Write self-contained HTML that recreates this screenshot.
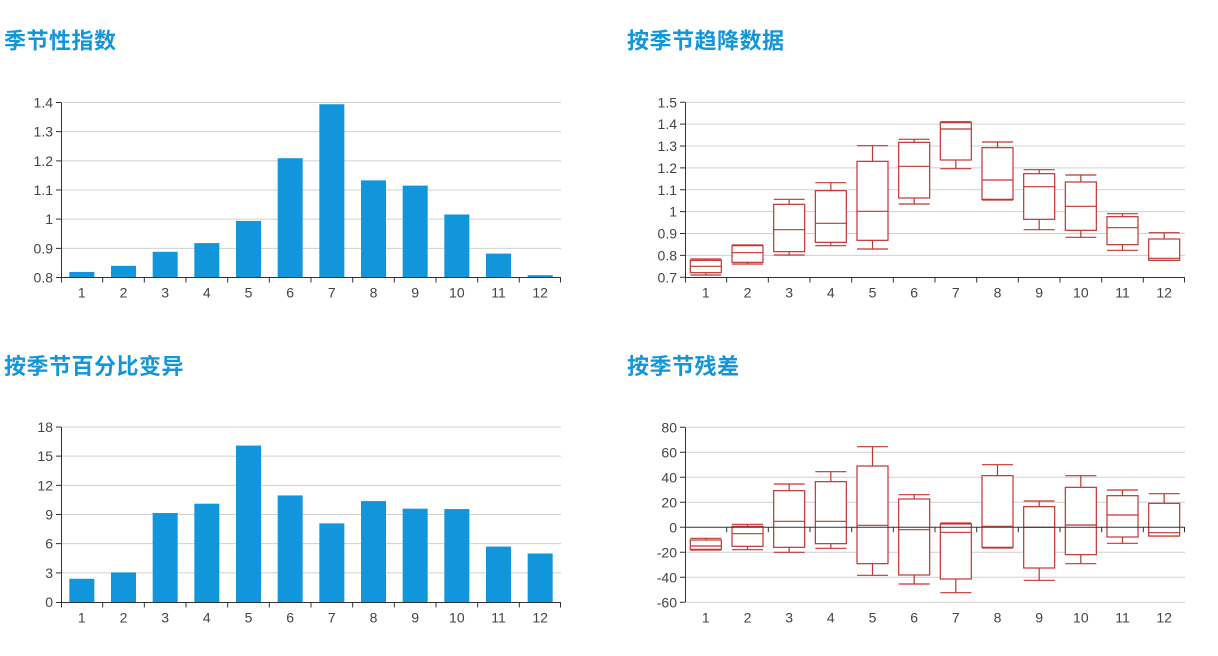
<!DOCTYPE html>
<html>
<head>
<meta charset="utf-8">
<style>
html,body{margin:0;padding:0;background:#fff;}
svg{display:block;}
.t{font-family:"Liberation Sans","Noto Sans CJK SC",sans-serif;font-size:22px;font-weight:bold;fill:#1296db;letter-spacing:0.5px;}
.yl{font-family:"Liberation Sans",sans-serif;font-size:14px;fill:#444;text-anchor:end;}
.xl{font-family:"Liberation Sans",sans-serif;font-size:14px;fill:#444;text-anchor:middle;}
.g{stroke:#d0d0d0;stroke-width:1;}
.ax{stroke:#333;stroke-width:1;fill:none;}
.bar{fill:#1296db;}
.bx{stroke:#c23531;stroke-width:1.2;fill:#fff;}
.wl{stroke:#c23531;stroke-width:1.2;fill:none;}
</style>
</head>
<body>
<svg width="1218" height="656" viewBox="0 0 1218 656" xmlns="http://www.w3.org/2000/svg">
<rect width="1218" height="656" fill="#fff"/>

<!-- Titles -->
<text class="t" x="4" y="48.5">季节性指数</text>
<text class="t" x="627" y="48.5">按季节趋降数据</text>
<text class="t" x="4" y="374">按季节百分比变异</text>
<text class="t" x="627" y="374">按季节残差</text>

<!-- ============ Chart TL ============ -->
<g>
<line class="g" x1="61" x2="561" y1="102.5" y2="102.5"/>
<line class="g" x1="61" x2="561" y1="131.67" y2="131.67"/>
<line class="g" x1="61" x2="561" y1="160.83" y2="160.83"/>
<line class="g" x1="61" x2="561" y1="190" y2="190"/>
<line class="g" x1="61" x2="561" y1="219.17" y2="219.17"/>
<line class="g" x1="61" x2="561" y1="248.33" y2="248.33"/>
<rect class="bar" x="69.33" y="271.96" width="25" height="5.54"/>
<rect class="bar" x="111" y="265.83" width="25" height="11.67"/>
<rect class="bar" x="152.67" y="251.83" width="25" height="25.67"/>
<rect class="bar" x="194.33" y="243.08" width="25" height="34.42"/>
<rect class="bar" x="236" y="220.92" width="25" height="56.58"/>
<rect class="bar" x="277.67" y="158.21" width="25" height="119.29"/>
<rect class="bar" x="319.33" y="104.25" width="25" height="173.25"/>
<rect class="bar" x="361" y="180.37" width="25" height="97.13"/>
<rect class="bar" x="402.67" y="185.62" width="25" height="91.88"/>
<rect class="bar" x="444.33" y="214.5" width="25" height="63"/>
<rect class="bar" x="486" y="253.58" width="25" height="23.92"/>
<rect class="bar" x="527.67" y="275.17" width="25" height="2.33"/>
<line class="ax" x1="61.5" x2="61.5" y1="102.5" y2="277.5"/>
<line class="ax" x1="61" x2="561" y1="277.5" y2="277.5"/>
<path class="ax" d="M56 102.5H61M56 131.67H61M56 160.83H61M56 190H61M56 219.17H61M56 248.33H61M56 277.5H61"/>
<path class="ax" d="M61.5 277.5V282.5M102.67 277.5V282.5M144.33 277.5V282.5M186 277.5V282.5M227.67 277.5V282.5M269.33 277.5V282.5M311 277.5V282.5M352.67 277.5V282.5M394.33 277.5V282.5M436 277.5V282.5M477.67 277.5V282.5M519.33 277.5V282.5M560.5 277.5V282.5"/>
<text class="yl" x="53" y="107.5">1.4</text>
<text class="yl" x="53" y="136.67">1.3</text>
<text class="yl" x="53" y="165.83">1.2</text>
<text class="yl" x="53" y="195">1.1</text>
<text class="yl" x="53" y="224.17">1</text>
<text class="yl" x="53" y="253.33">0.9</text>
<text class="yl" x="53" y="282.5">0.8</text>
<text class="xl" x="81.83" y="297.5">1</text>
<text class="xl" x="123.5" y="297.5">2</text>
<text class="xl" x="165.17" y="297.5">3</text>
<text class="xl" x="206.83" y="297.5">4</text>
<text class="xl" x="248.5" y="297.5">5</text>
<text class="xl" x="290.17" y="297.5">6</text>
<text class="xl" x="331.83" y="297.5">7</text>
<text class="xl" x="373.5" y="297.5">8</text>
<text class="xl" x="415.17" y="297.5">9</text>
<text class="xl" x="456.83" y="297.5">10</text>
<text class="xl" x="498.5" y="297.5">11</text>
<text class="xl" x="540.17" y="297.5">12</text>
</g>

<!-- ============ Chart BL ============ -->
<g>
<line class="g" x1="61" x2="561" y1="427" y2="427"/>
<line class="g" x1="61" x2="561" y1="456.17" y2="456.17"/>
<line class="g" x1="61" x2="561" y1="485.33" y2="485.33"/>
<line class="g" x1="61" x2="561" y1="514.5" y2="514.5"/>
<line class="g" x1="61" x2="561" y1="543.67" y2="543.67"/>
<line class="g" x1="61" x2="561" y1="572.83" y2="572.83"/>
<rect class="bar" x="69.33" y="578.76" width="25" height="23.24"/>
<rect class="bar" x="111" y="572.44" width="25" height="29.56"/>
<rect class="bar" x="152.67" y="513.04" width="25" height="88.96"/>
<rect class="bar" x="194.33" y="503.71" width="25" height="98.29"/>
<rect class="bar" x="236" y="445.57" width="25" height="156.43"/>
<rect class="bar" x="277.67" y="495.44" width="25" height="106.56"/>
<rect class="bar" x="319.33" y="523.35" width="25" height="78.65"/>
<rect class="bar" x="361" y="501.08" width="25" height="100.92"/>
<rect class="bar" x="402.67" y="508.67" width="25" height="93.33"/>
<rect class="bar" x="444.33" y="509.06" width="25" height="92.94"/>
<rect class="bar" x="486" y="546.58" width="25" height="55.42"/>
<rect class="bar" x="527.67" y="553.49" width="25" height="48.51"/>
<line class="ax" x1="61.5" x2="61.5" y1="427" y2="602.5"/>
<line class="ax" x1="61" x2="561" y1="602.5" y2="602.5"/>
<path class="ax" d="M56 427H61M56 456.17H61M56 485.33H61M56 514.5H61M56 543.67H61M56 572.83H61M56 602.5H61"/>
<path class="ax" d="M61.5 602.5V607.5M102.67 602.5V607.5M144.33 602.5V607.5M186 602.5V607.5M227.67 602.5V607.5M269.33 602.5V607.5M311 602.5V607.5M352.67 602.5V607.5M394.33 602.5V607.5M436 602.5V607.5M477.67 602.5V607.5M519.33 602.5V607.5M560.5 602.5V607.5"/>
<text class="yl" x="53" y="432">18</text>
<text class="yl" x="53" y="461.17">15</text>
<text class="yl" x="53" y="490.33">12</text>
<text class="yl" x="53" y="519.5">9</text>
<text class="yl" x="53" y="548.67">6</text>
<text class="yl" x="53" y="577.83">3</text>
<text class="yl" x="53" y="607">0</text>
<text class="xl" x="81.83" y="622.5">1</text>
<text class="xl" x="123.5" y="622.5">2</text>
<text class="xl" x="165.17" y="622.5">3</text>
<text class="xl" x="206.83" y="622.5">4</text>
<text class="xl" x="248.5" y="622.5">5</text>
<text class="xl" x="290.17" y="622.5">6</text>
<text class="xl" x="331.83" y="622.5">7</text>
<text class="xl" x="373.5" y="622.5">8</text>
<text class="xl" x="415.17" y="622.5">9</text>
<text class="xl" x="456.83" y="622.5">10</text>
<text class="xl" x="498.5" y="622.5">11</text>
<text class="xl" x="540.17" y="622.5">12</text>
</g>

<!-- ============ Chart TR ============ -->
<g>
<line class="g" x1="685" x2="1185" y1="102.3" y2="102.3"/>
<line class="g" x1="685" x2="1185" y1="124.18" y2="124.18"/>
<line class="g" x1="685" x2="1185" y1="146.05" y2="146.05"/>
<line class="g" x1="685" x2="1185" y1="167.93" y2="167.93"/>
<line class="g" x1="685" x2="1185" y1="189.8" y2="189.8"/>
<line class="g" x1="685" x2="1185" y1="211.68" y2="211.68"/>
<line class="g" x1="685" x2="1185" y1="233.55" y2="233.55"/>
<line class="g" x1="685" x2="1185" y1="255.43" y2="255.43"/>

<g>
<path class="wl" d="M705.83 259V260.33M705.83 272.67V275M690.33 259H721.33M690.33 275H721.33"/>
<rect class="bx" x="690.33" y="260.33" width="31" height="12.34"/>
<line class="wl" x1="690.33" x2="721.33" y1="266.33" y2="266.33"/>

<path class="wl" d="M747.5 245V245.67M747.5 262.33V264M732 245H763M732 264H763"/>
<rect class="bx" x="732" y="245.67" width="31" height="16.66"/>
<line class="wl" x1="732" x2="763" y1="252.67" y2="252.67"/>

<path class="wl" d="M789.17 199.33V204.33M789.17 251.67V255M773.67 199.33H804.67M773.67 255H804.67"/>
<rect class="bx" x="773.67" y="204.33" width="31" height="47.34"/>
<line class="wl" x1="773.67" x2="804.67" y1="229.67" y2="229.67"/>

<path class="wl" d="M830.83 182.67V190.67M830.83 242.33V245.67M815.33 182.67H846.33M815.33 245.67H846.33"/>
<rect class="bx" x="815.33" y="190.67" width="31" height="51.66"/>
<line class="wl" x1="815.33" x2="846.33" y1="223.33" y2="223.33"/>

<path class="wl" d="M872.5 145.67V161.33M872.5 240.33V249M857 145.67H888M857 249H888"/>
<rect class="bx" x="857" y="161.33" width="31" height="79"/>
<line class="wl" x1="857" x2="888" y1="211.33" y2="211.33"/>

<path class="wl" d="M914.17 139.33V142.33M914.17 198V204M898.67 139.33H929.67M898.67 204H929.67"/>
<rect class="bx" x="898.67" y="142.33" width="31" height="55.67"/>
<line class="wl" x1="898.67" x2="929.67" y1="166.33" y2="166.33"/>

<path class="wl" d="M955.83 121.67V122.67M955.83 160V168.67M940.33 121.67H971.33M940.33 168.67H971.33"/>
<rect class="bx" x="940.33" y="122.67" width="31" height="37.33"/>
<line class="wl" x1="940.33" x2="971.33" y1="129" y2="129"/>

<path class="wl" d="M997.5 142V147.67M997.5 199.33V200M982 142H1013M982 200H1013"/>
<rect class="bx" x="982" y="147.67" width="31" height="51.66"/>
<line class="wl" x1="982" x2="1013" y1="180" y2="180"/>

<path class="wl" d="M1039.17 169.67V173.67M1039.17 219.33V229.67M1023.67 169.67H1054.67M1023.67 229.67H1054.67"/>
<rect class="bx" x="1023.67" y="173.67" width="31" height="45.66"/>
<line class="wl" x1="1023.67" x2="1054.67" y1="186.67" y2="186.67"/>

<path class="wl" d="M1080.83 175V182M1080.83 230.33V237.33M1065.33 175H1096.33M1065.33 237.33H1096.33"/>
<rect class="bx" x="1065.33" y="182" width="31" height="48.33"/>
<line class="wl" x1="1065.33" x2="1096.33" y1="206.33" y2="206.33"/>

<path class="wl" d="M1122.5 213.67V216.67M1122.5 244.67V250.33M1107 213.67H1138M1107 250.33H1138"/>
<rect class="bx" x="1107" y="216.67" width="31" height="28"/>
<line class="wl" x1="1107" x2="1138" y1="227.67" y2="227.67"/>

<path class="wl" d="M1164.17 232.67V239M1148.67 232.67H1179.67M1148.67 260.33H1179.67"/>
<rect class="bx" x="1148.67" y="239" width="31" height="21.33"/>
<line class="wl" x1="1148.67" x2="1179.67" y1="258.33" y2="258.33"/>
</g>

<line class="ax" x1="685.5" x2="685.5" y1="102.3" y2="277.3"/>
<line class="ax" x1="685" x2="1185" y1="277.5" y2="277.5"/>
<path class="ax" d="M680 102.3H685M680 124.18H685M680 146.05H685M680 167.93H685M680 189.8H685M680 211.68H685M680 233.55H685M680 255.43H685M680 277.3H685"/>
<path class="ax" d="M685.5 277.5V282.5M726.67 277.5V282.5M768.33 277.5V282.5M810 277.5V282.5M851.67 277.5V282.5M893.33 277.5V282.5M935 277.5V282.5M976.67 277.5V282.5M1018.33 277.5V282.5M1060 277.5V282.5M1101.67 277.5V282.5M1143.33 277.5V282.5M1184.5 277.5V282.5"/>
<text class="yl" x="677" y="107.3">1.5</text>
<text class="yl" x="677" y="129.18">1.4</text>
<text class="yl" x="677" y="151.05">1.3</text>
<text class="yl" x="677" y="172.93">1.2</text>
<text class="yl" x="677" y="194.8">1.1</text>
<text class="yl" x="677" y="216.68">1</text>
<text class="yl" x="677" y="238.55">0.9</text>
<text class="yl" x="677" y="260.43">0.8</text>
<text class="yl" x="677" y="282.3">0.7</text>
<text class="xl" x="705.83" y="297.5">1</text>
<text class="xl" x="747.5" y="297.5">2</text>
<text class="xl" x="789.17" y="297.5">3</text>
<text class="xl" x="830.83" y="297.5">4</text>
<text class="xl" x="872.5" y="297.5">5</text>
<text class="xl" x="914.17" y="297.5">6</text>
<text class="xl" x="955.83" y="297.5">7</text>
<text class="xl" x="997.5" y="297.5">8</text>
<text class="xl" x="1039.17" y="297.5">9</text>
<text class="xl" x="1080.83" y="297.5">10</text>
<text class="xl" x="1122.5" y="297.5">11</text>
<text class="xl" x="1164.17" y="297.5">12</text>
</g>

<!-- ============ Chart BR ============ -->
<g>
<line class="g" x1="685" x2="1185" y1="427.3" y2="427.3"/>
<line class="g" x1="685" x2="1185" y1="452.3" y2="452.3"/>
<line class="g" x1="685" x2="1185" y1="477.3" y2="477.3"/>
<line class="g" x1="685" x2="1185" y1="502.3" y2="502.3"/>
<line class="g" x1="685" x2="1185" y1="552.3" y2="552.3"/>
<line class="g" x1="685" x2="1185" y1="577.3" y2="577.3"/>
<line class="g" x1="685" x2="1185" y1="602.3" y2="602.3"/>

<g>
<path class="wl" d="M705.83 538.33V540M705.83 549.33V550M690.33 538.33H721.33M690.33 550H721.33"/>
<rect class="bx" x="690.33" y="540" width="31" height="9.33"/>
<line class="wl" x1="690.33" x2="721.33" y1="546" y2="546"/>

<path class="wl" d="M747.5 524.33V526.33M747.5 546.33V549.67M732 524.33H763M732 549.67H763"/>
<rect class="bx" x="732" y="526.33" width="31" height="20"/>
<line class="wl" x1="732" x2="763" y1="533.67" y2="533.67"/>

<path class="wl" d="M789.17 484V490.67M789.17 547.33V552.33M773.67 484H804.67M773.67 552.33H804.67"/>
<rect class="bx" x="773.67" y="490.67" width="31" height="56.66"/>
<line class="wl" x1="773.67" x2="804.67" y1="521.33" y2="521.33"/>

<path class="wl" d="M830.83 471.67V481.67M830.83 543.67V548.33M815.33 471.67H846.33M815.33 548.33H846.33"/>
<rect class="bx" x="815.33" y="481.67" width="31" height="62"/>
<line class="wl" x1="815.33" x2="846.33" y1="521.33" y2="521.33"/>

<path class="wl" d="M872.5 446.67V466M872.5 563.67V575.33M857 446.67H888M857 575.33H888"/>
<rect class="bx" x="857" y="466" width="31" height="97.67"/>
<line class="wl" x1="857" x2="888" y1="525.33" y2="525.33"/>

<path class="wl" d="M914.17 494.67V499M914.17 575V584M898.67 494.67H929.67M898.67 584H929.67"/>
<rect class="bx" x="898.67" y="499" width="31" height="76"/>
<line class="wl" x1="898.67" x2="929.67" y1="529.67" y2="529.67"/>

<path class="wl" d="M955.83 523V524M955.83 579V592.67M940.33 523H971.33M940.33 592.67H971.33"/>
<rect class="bx" x="940.33" y="524" width="31" height="55"/>
<line class="wl" x1="940.33" x2="971.33" y1="532.33" y2="532.33"/>

<path class="wl" d="M997.5 464.67V475.67M997.5 547.33V548M982 464.67H1013M982 548H1013"/>
<rect class="bx" x="982" y="475.67" width="31" height="71.66"/>
<line class="wl" x1="982" x2="1013" y1="526.33" y2="526.33"/>

<path class="wl" d="M1039.17 501V506.67M1039.17 568V580.33M1023.67 501H1054.67M1023.67 580.33H1054.67"/>
<rect class="bx" x="1023.67" y="506.67" width="31" height="61.33"/>
<line class="wl" x1="1023.67" x2="1054.67" y1="527.33" y2="527.33"/>

<path class="wl" d="M1080.83 475.67V487.33M1080.83 554.67V563.67M1065.33 475.67H1096.33M1065.33 563.67H1096.33"/>
<rect class="bx" x="1065.33" y="487.33" width="31" height="67.34"/>
<line class="wl" x1="1065.33" x2="1096.33" y1="525" y2="525"/>

<path class="wl" d="M1122.5 490V495.67M1122.5 537V543.33M1107 490H1138M1107 543.33H1138"/>
<rect class="bx" x="1107" y="495.67" width="31" height="41.33"/>
<line class="wl" x1="1107" x2="1138" y1="515" y2="515"/>

<path class="wl" d="M1164.17 493.67V503.33M1148.67 493.67H1179.67M1148.67 536H1179.67"/>
<rect class="bx" x="1148.67" y="503.33" width="31" height="32.67"/>
<line class="wl" x1="1148.67" x2="1179.67" y1="532.67" y2="532.67"/>
</g>

<line class="ax" x1="685" x2="1185" y1="527.3" y2="527.3"/>
<line class="ax" x1="685.5" x2="685.5" y1="427.3" y2="602.3"/>
<path class="ax" d="M680 427.3H685M680 452.3H685M680 477.3H685M680 502.3H685M680 527.3H685M680 552.3H685M680 577.3H685M680 602.3H685"/>
<path class="ax" d="M726.67 527.3V532.3M768.33 527.3V532.3M810 527.3V532.3M851.67 527.3V532.3M893.33 527.3V532.3M935 527.3V532.3M976.67 527.3V532.3M1018.33 527.3V532.3M1060 527.3V532.3M1101.67 527.3V532.3M1143.33 527.3V532.3M1184.5 527.3V532.3"/>
<text class="yl" x="677" y="432.3">80</text>
<text class="yl" x="677" y="457.3">60</text>
<text class="yl" x="677" y="482.3">40</text>
<text class="yl" x="677" y="507.3">20</text>
<text class="yl" x="677" y="532.3">0</text>
<text class="yl" x="677" y="557.3">-20</text>
<text class="yl" x="677" y="582.3">-40</text>
<text class="yl" x="677" y="607.3">-60</text>
<text class="xl" x="705.83" y="622.5">1</text>
<text class="xl" x="747.5" y="622.5">2</text>
<text class="xl" x="789.17" y="622.5">3</text>
<text class="xl" x="830.83" y="622.5">4</text>
<text class="xl" x="872.5" y="622.5">5</text>
<text class="xl" x="914.17" y="622.5">6</text>
<text class="xl" x="955.83" y="622.5">7</text>
<text class="xl" x="997.5" y="622.5">8</text>
<text class="xl" x="1039.17" y="622.5">9</text>
<text class="xl" x="1080.83" y="622.5">10</text>
<text class="xl" x="1122.5" y="622.5">11</text>
<text class="xl" x="1164.17" y="622.5">12</text>
</g>
</svg>
</body>
</html>
